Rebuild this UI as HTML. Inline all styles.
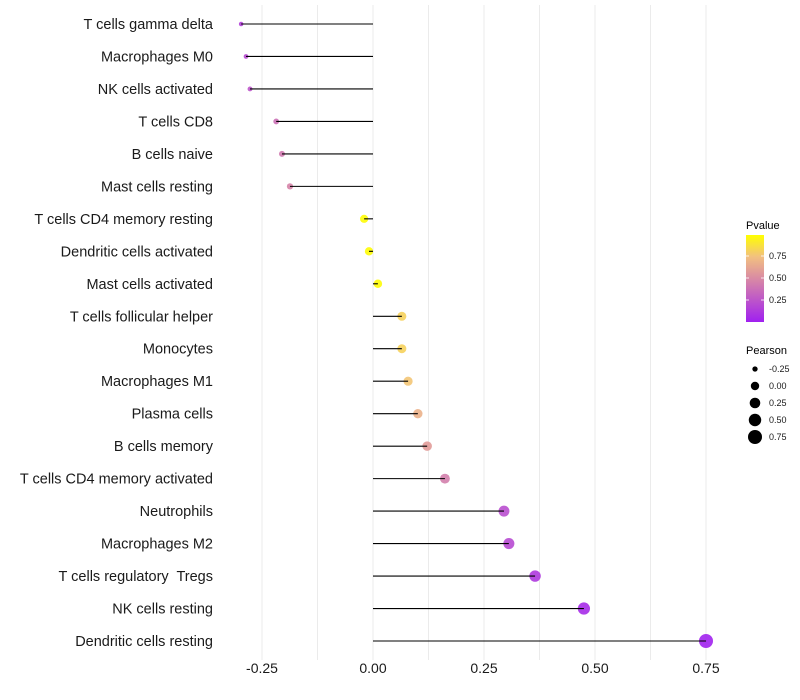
<!DOCTYPE html>
<html><head><meta charset="utf-8"><style>
html,body{margin:0;padding:0;background:#fff;}
svg{display:block;font-family:"Liberation Sans",sans-serif;}
</style></head><body>
<svg id="chart" width="800" height="700">
<defs><linearGradient id="pgrad" x1="0" y1="1" x2="0" y2="0">
<stop offset="0" stop-color="#a020f0"/><stop offset="0.5" stop-color="#d98aa4"/><stop offset="0.75" stop-color="#f2c080"/><stop offset="1" stop-color="#ffff00"/>
</linearGradient></defs>
</svg>
<script>
const categories=["T cells gamma delta","Macrophages M0","NK cells activated","T cells CD8","B cells naive","Mast cells resting","T cells CD4 memory resting","Dendritic cells activated","Mast cells activated","T cells follicular helper","Monocytes","Macrophages M1","Plasma cells","B cells memory","T cells CD4 memory activated","Neutrophils","Macrophages M2","T cells regulatory  Tregs","NK cells resting","Dendritic cells resting"];
const pearson=[-0.297,-0.286,-0.277,-0.218,-0.205,-0.187,-0.020,-0.009,0.011,0.065,0.065,0.079,0.101,0.122,0.162,0.295,0.306,0.365,0.475,0.750];
const pvalues=[0.15,0.2,0.25,0.38,0.42,0.47,0.99,0.99,0.99,0.82,0.82,0.77,0.68,0.58,0.45,0.22,0.2,0.12,0.05,0.01];
const xTicks=[-0.25,0,0.25,0.5,0.75];
const xTickLabels=["-0.25","0.00","0.25","0.50","0.75"];
const sizeLegend=[-0.25,0,0.25,0.5,0.75];
const sizeLegendLabels=["-0.25","0.00","0.25","0.50","0.75"];
const pLegend=[0.25,0.5,0.75];
const pLegendLabels=["0.25","0.50","0.75"];

const NS="http://www.w3.org/2000/svg";
const svg=document.getElementById('chart');
const x=v=>373+v*444;
const y=i=>24+i*(617/19);
function rad(v){return Math.sqrt(Math.max(5+(v+0.3)*42,2));}
function lerp(a,b,t){return a.map((c,k)=>Math.round(c+(b[k]-c)*t));}
function pcol(p){const lo=[160,32,240],mid=[217,138,164],q=[242,192,128],hi=[255,255,0];
 let c;if(p<0.5)c=lerp(lo,mid,p/0.5);else if(p<0.75)c=lerp(mid,q,(p-0.5)/0.25);else c=lerp(q,hi,(p-0.75)/0.25);return `rgb(${c})`;}
function el(tag,attrs,parent){const e=document.createElementNS(NS,tag);for(const k in attrs)e.setAttribute(k,attrs[k]);(parent||svg).appendChild(e);return e;}
[-0.25,-0.125,0,0.125,0.25,0.375,0.5,0.625,0.75].forEach(t=>{
 const g=el('line',{x1:x(t),x2:x(t),y1:5,y2:660,stroke:'#ebebeb','stroke-width':1});
 
 
});
categories.forEach((c,i)=>{
 const lab=el('text',{x:213,y:y(i)+5,'text-anchor':'end','font-size':14.5,fill:'#1a1a1a','xml:space':'preserve'});
 lab.style.whiteSpace='pre';
 lab.textContent=c;
 
 
 const dot=el('circle',{cx:x(pearson[i]),cy:y(i),r:rad(pearson[i]),fill:pcol(pvalues[i]),'fill-opacity':0.9});
 
 
 const ln=el('line',{x1:x(0),x2:x(pearson[i]),y1:y(i),y2:y(i),stroke:'#000','stroke-width':1.1});
 
 
});
xTicks.forEach((t,i)=>{
 const tl=el('text',{x:x(t),y:673,'text-anchor':'middle','font-size':14,fill:'#1a1a1a'});
 tl.textContent=xTickLabels[i];
 
 
});
const pt=el('text',{x:746,y:229,'font-size':11,fill:'#000'});pt.textContent='Pvalue';


const bar=el('rect',{x:746,y:235,width:18,height:87,fill:'url(#pgrad)'});


pLegend.forEach((p,i)=>{
 const yy=322-p*88;
 el('line',{x1:746,x2:749,y1:yy,y2:yy,stroke:'#fff','stroke-width':0.8});
 el('line',{x1:761,x2:764,y1:yy,y2:yy,stroke:'#fff','stroke-width':0.8});
 const t=el('text',{x:769,y:yy+3,'font-size':9,fill:'#1a1a1a'});t.textContent=pLegendLabels[i];
 
 
});
const st=el('text',{x:746,y:354,'font-size':11,fill:'#000'});st.textContent='Pearson';


sizeLegend.forEach((v,i)=>{
 const yy=369+i*17;
 const c=el('circle',{cx:755,cy:yy,r:rad(v),fill:'#000'});
 
 
 const t=el('text',{x:769,y:yy+3,'font-size':9,fill:'#1a1a1a'});t.textContent=sizeLegendLabels[i];
 
 
});
</script>
</body></html>
